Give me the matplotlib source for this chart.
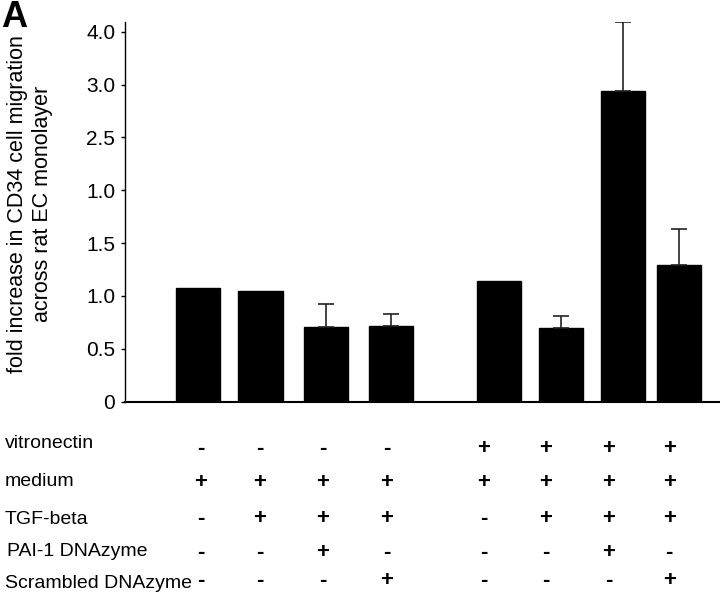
import numpy as np
import matplotlib.pyplot as plt
from matplotlib.transforms import blended_transform_factory

plt.rcParams['font.family'] = ['Liberation Sans', 'DejaVu Sans']

# bar heights and upper error (axis units of the original figure)
heights = [1.08, 1.05, 0.71, 0.72, 1.14, 0.70, 2.94, 1.29]
errors = [0, 0, 0.21, 0.11, 0, 0.11, 0.65, 0.34]

ytick_labels = ['0', '0.5', '1.0', '1.5', '1.0', '2.5', '3.0', '4.0']

row_names = ['vitronectin', 'medium', 'TGF-beta', 'PAI-1 DNAzyme', 'Scrambled DNAzyme']
conditions = [
    ['-', '-', '-', '-', '+', '+', '+', '+'],
    ['+', '+', '+', '+', '+', '+', '+', '+'],
    ['-', '+', '+', '+', '-', '+', '+', '+'],
    ['-', '-', '+', '-', '-', '-', '+', '-'],
    ['-', '-', '-', '+', '-', '-', '-', '+'],
]

# layout
bar_x = [0, 1, 2.05, 3.1, 4.85, 5.85, 6.85, 7.75]
col_x = [0.04, 0.99, 2.0, 3.03, 4.6, 5.6, 6.61, 7.59]
label_y = [443, 481, 519, 551, 584]   # pixels from top
sym_y = [449, 483, 518, 552, 581]
W, H = 720, 592

fig = plt.figure(figsize=(W / 100, H / 100), dpi=100)
ax = fig.add_axes([125 / W, 1 - 401.7 / H, (W - 125) / W, 380 / H])

ax.bar(bar_x, heights, width=0.71, color='black', edgecolor='black')

err_idx = [i for i, e in enumerate(errors) if e > 0]
ax.errorbar([bar_x[i] for i in err_idx], [heights[i] for i in err_idx],
            yerr=[[0] * len(err_idx), [errors[i] for i in err_idx]],
            fmt='none', ecolor='#222222', elinewidth=1.2, capsize=5.5, capthick=1.2)

ax.set_xlim(-1.185, 8.41)
ax.set_ylim(0, 3.595)
ax.set_xticks([])
ax.set_yticks(np.arange(0, 3.51, 0.5))
ax.set_yticklabels(ytick_labels, fontsize=15)
ax.tick_params(axis='y', length=3, width=1, pad=4)

ax.spines['top'].set_visible(False)
ax.spines['right'].set_visible(False)
ax.spines['left'].set_linewidth(1)
ax.spines['bottom'].set_linewidth(1.5)

fig.text(30 / W, 1 - 204 / H,
         'fold increase in CD34 cell migration\nacross rat EC monolayer',
         rotation=90, ha='center', va='center', multialignment='center',
         fontsize=15.5, linespacing=1.3)

fig.text(1 / W, 1.0, 'A', fontsize=26, fontweight='bold', ha='left', va='top')

# condition table
trans = blended_transform_factory(ax.transData, fig.transFigure)
for r, name in enumerate(row_names):
    xlab = 7 if name.startswith('PAI') else 5
    fig.text(xlab / W, 1 - label_y[r] / H, name, fontsize=14, ha='left', va='center')
    for c, sym in enumerate(conditions[r]):
        ax.text(col_x[c], 1 - sym_y[r] / H, sym, transform=trans, fontsize=16,
                fontweight='bold', ha='center', va='center', clip_on=False)

fig.savefig('out.png', dpi=100)
